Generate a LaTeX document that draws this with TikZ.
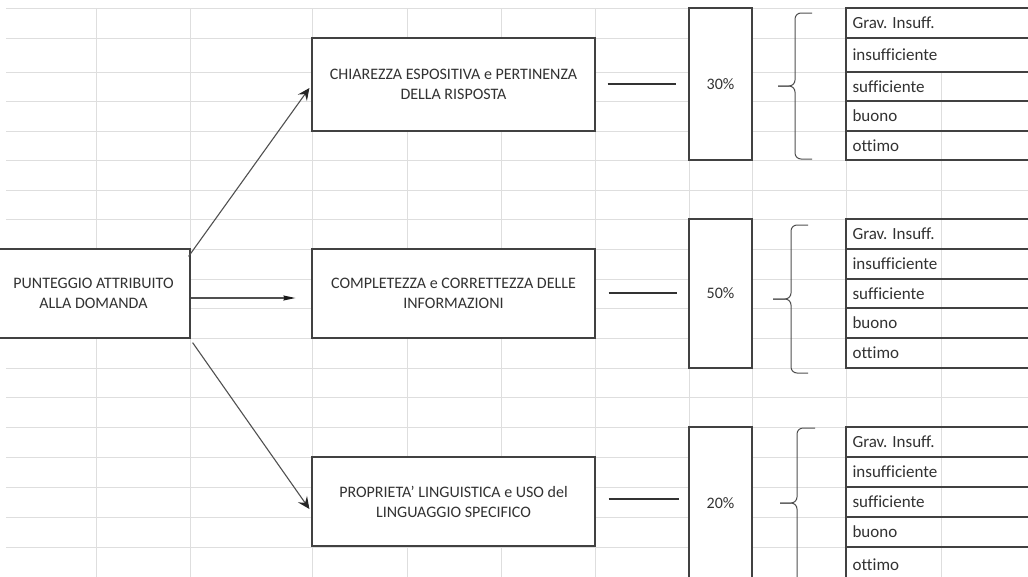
\documentclass[tikz,border=0pt]{standalone}
\usepackage{fontspec}
\setmainfont{Carlito}[Ligatures={NoCommon}]
\usetikzlibrary{arrows.meta,calc}

\definecolor{gridgray}{RGB}{222,222,222}
\definecolor{boxgray}{RGB}{65,65,65}
\definecolor{textgray}{RGB}{50,50,50}
\definecolor{arrowgray}{RGB}{80,80,80}

\begin{document}
\begin{tikzpicture}[
    x=1pt, y=-1pt,
    gridline/.style={draw=gridgray, line width=0.9pt},
    box/.style={draw=boxgray, line width=1.2pt, fill=white, text=textgray,
        align=center, inner sep=0pt},
    cellline/.style={draw=boxgray, line width=1.2pt},
    cell/.style={anchor=west, text=textgray, font=\fontsize{17}{20}\selectfont},
    link/.style={draw=arrowgray, line width=1.1pt,
        -{Stealth[length=12pt, width=11pt, inset=4.5pt, color=black!85]}},
    bar/.style={draw=textgray, line width=1.1pt},
    bracket/.style={draw=arrowgray, line width=1pt, rounded corners=6pt},
    every node/.style={font=\fontsize{16}{20}\selectfont}
]
    % Page and sheet grid
    \useasboundingbox[fill=white] (0,0) rectangle (1028,576);
    \foreach \y in {8,38,72,101,131,160,190,219,249,279,308,338,368,397,427,457,487,517,547}
        \draw[gridline] (6,\y) -- (1030,\y);
    \foreach \x in {96,190,312,407,501,595,689,752,846,941}
        \draw[gridline] (\x,8) -- (\x,580);

    % Root box
    \node[box, minimum width=193, minimum height=89] (punt) at (93.5,293.5)
        {PUNTEGGIO ATTRIBUITO\\ALLA DOMANDA};

    % Criteria
    \node[box, minimum width=283, minimum height=93] (chiar) at (453.5,84.5)
        {CHIAREZZA ESPOSITIVA e PERTINENZA\\DELLA RISPOSTA};
    \node[box, minimum width=283, minimum height=89] (compl) at (453.5,293.5)
        {COMPLETEZZA e CORRETTEZZA DELLE\\INFORMAZIONI};
    \node[box, minimum width=283, minimum height=89] (prop) at (453.5,501.5)
        {PROPRIETA' LINGUISTICA e USO del\\LINGUAGGIO SPECIFICO};

    % Weights
    \node[box, minimum width=63, minimum height=152] (p30) at (720.5,84) {30\%};
    \node[box, minimum width=63, minimum height=149] (p50) at (720.5,293.5) {50\%};
    \node[box, minimum width=63, minimum height=153] (p20) at (720.5,503.5) {20\%};

    % Arrows from the root
    \draw[link] ($(punt.north east)+(-2,8)$) -- ($(chiar.west)+(-2,3.5)$);
    \draw[link, -{Stealth[length=12pt, width=5pt, inset=1pt, color=black!90]}]
        ($(punt.east)+(0,4.5)$) -- ($(compl.west)+(-16,4.5)$);
    \draw[link] ($(punt.south east)+(2,4)$) -- ($(prop.west)+(-2,7.5)$);

    % Criteria to weights
    \draw[bar] ($(chiar.east)+(12,-0.5)$) -- ($(p30.west)+(-12,0)$);
    \draw[bar, line width=1.8pt] ($(compl.east)+(13,-0.5)$) -- ($(p50.west)+(-11,-0.5)$);
    \draw[bar] ($(prop.east)+(13,-2.5)$) -- ++(70,0);

    % Braces
    \foreach \vx/\ex/\tx/\ya/\ym/\yb in {795/812/778/13/86/159, 791/808/773/225/299/373, 797/815/780/428/503/582} {
        \draw[bracket] (\ex,\ya) -- (\vx,\ya) -- (\vx,\ym) -- (\tx,\ym);
        \draw[bracket] (\tx,\ym) -- (\vx,\ym) -- (\vx,\yb) -- (\ex,\yb);
    }

    % Rating scales
    \fill[white] (846,8) rectangle (1030,72);
    \foreach \g/\ya/\yb/\yc/\yd/\ye/\yf in {a/8/38/72/101/131/160, b/219/249/279/308/338/368, c/427/457/487/517/547/582} {
        \draw[cellline] (1030,\ya) -- (846,\ya) -- (846,\yf) -- (1030,\yf);
        \foreach \y in {\yb,\yc,\yd,\ye}
            \draw[cellline] (846,\y) -- (1030,\y);
        \node[cell] (\g1) at (849,{(\ya+\yb)/2}) {Grav. Insuff.};
        \node[cell] (\g2) at (849,{(\yb+\yc)/2}) {insufficiente};
        \node[cell] (\g3) at (849,{(\yc+\yd)/2}) {sufficiente};
        \node[cell] (\g4) at (849,{(\yd+\ye)/2}) {buono};
        \node[cell] (\g5) at (849,{(\ye+\yf)/2}) {ottimo};
    }
\end{tikzpicture}
\end{document}
